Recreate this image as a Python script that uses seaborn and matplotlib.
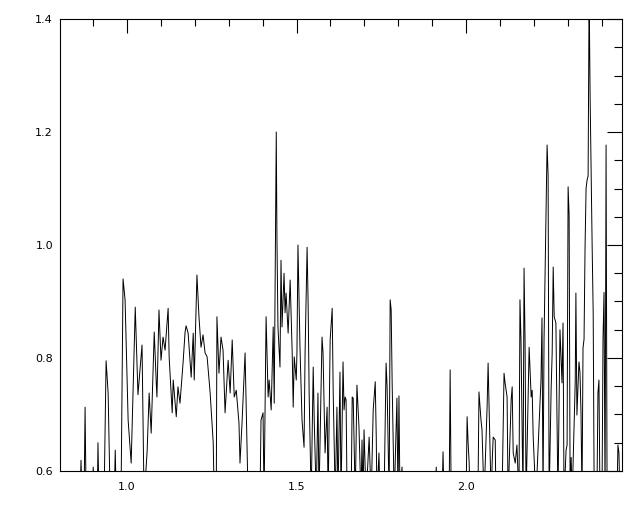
import matplotlib
matplotlib.use("Agg")
import matplotlib.pyplot as plt
from matplotlib.ticker import MultipleLocator, FormatStrFormatter
import seaborn as sns
import pandas as pd

B = 0.55  # below visible range (clipped)

wavelength = [
    0.802, 0.861, 0.864, 0.867, 0.873, 0.876, 0.879, 0.897, 0.900, 0.903,
    0.912, 0.914, 0.917, 0.932, 0.938, 0.944, 0.950, 0.962, 0.965, 0.968,
    0.982, 0.988, 0.994, 1.003, 1.012, 1.024, 1.032, 1.044, 1.050, 1.059,
    1.065, 1.071, 1.080, 1.086, 1.088, 1.094, 1.100, 1.106, 1.112, 1.121,
    1.124, 1.133, 1.136, 1.145, 1.150, 1.156, 1.165, 1.171, 1.174, 1.180,
    1.189, 1.195, 1.198, 1.206, 1.212, 1.218, 1.224, 1.230, 1.236, 1.245,
    1.254, 1.257, 1.263, 1.265, 1.271, 1.277, 1.283, 1.289, 1.298, 1.304,
    1.310, 1.316, 1.322, 1.330, 1.333, 1.339, 1.348, 1.354, 1.357, 1.392,
    1.395, 1.401, 1.404, 1.410, 1.416, 1.419, 1.425, 1.431, 1.434, 1.440,
    1.442, 1.445, 1.451, 1.454, 1.457, 1.463, 1.466, 1.469, 1.475, 1.481,
    1.487, 1.490, 1.493, 1.499, 1.501, 1.504, 1.510, 1.516, 1.522, 1.525,
    1.531, 1.534, 1.537, 1.543, 1.549, 1.552, 1.558, 1.563, 1.566, 1.575,
    1.578, 1.584, 1.590, 1.593, 1.599, 1.605, 1.608, 1.614, 1.619, 1.622,
    1.628, 1.631, 1.637, 1.640, 1.643, 1.646, 1.649, 1.661, 1.664, 1.667,
    1.673, 1.678, 1.684, 1.690, 1.693, 1.696, 1.699, 1.705, 1.714, 1.720,
    1.726, 1.732, 1.735, 1.737, 1.743, 1.746, 1.758, 1.764, 1.767, 1.773,
    1.776, 1.779, 1.782, 1.788, 1.796, 1.799, 1.802, 1.805, 1.811, 1.814,
    1.909, 1.912, 1.914, 1.929, 1.932, 1.935, 1.950, 1.953, 1.956, 2.000,
    2.003, 2.006, 2.009, 2.012, 2.035, 2.038, 2.044, 2.047, 2.053, 2.062,
    2.065, 2.068, 2.074, 2.077, 2.080, 2.086, 2.088, 2.106, 2.112, 2.115,
    2.121, 2.124, 2.133, 2.136, 2.139, 2.145, 2.150, 2.156, 2.159, 2.162,
    2.168, 2.171, 2.174, 2.177, 2.186, 2.192, 2.195, 2.198, 2.206, 2.221,
    2.224, 2.227, 2.230, 2.239, 2.242, 2.245, 2.251, 2.254, 2.257, 2.260,
    2.265, 2.268, 2.271, 2.277, 2.283, 2.286, 2.289, 2.295, 2.298, 2.301,
    2.304, 2.307, 2.310, 2.313, 2.322, 2.324, 2.327, 2.333, 2.336, 2.339,
    2.342, 2.345, 2.348, 2.351, 2.354, 2.357, 2.360, 2.363, 2.366, 2.369,
    2.372, 2.375, 2.378, 2.386, 2.389, 2.392, 2.395, 2.401, 2.404, 2.407,
    2.410, 2.413, 2.416, 2.445, 2.448, 2.451, 2.454, 2.460,
]

flux = [
    B, B, 0.619, B, B, 0.713, B, B, 0.607, B,
    B, 0.650, B, B, 0.795, 0.738, B, B, 0.637, B,
    B, 0.940, 0.903, 0.690, 0.614, 0.890, 0.735, 0.823, B, 0.634,
    0.738, 0.667, 0.846, 0.756, 0.731, 0.885, 0.796, 0.837, 0.814, 0.888,
    0.802, 0.703, 0.761, 0.696, 0.749, 0.720, 0.791, 0.846, 0.857, 0.844,
    0.766, 0.844, 0.761, 0.947, 0.873, 0.819, 0.841, 0.809, 0.802, 0.738,
    0.650, B, B, 0.873, 0.773, 0.837, 0.814, 0.703, 0.796, 0.738,
    0.832, 0.731, 0.743, 0.685, 0.614, 0.685, 0.809, 0.637, B, B,
    0.690, 0.703, B, 0.873, 0.731, 0.761, 0.708, 0.855, 0.720, 1.200,
    1.014, 0.855, 0.784, 0.973, 0.855, 0.950, 0.880, 0.915, 0.844, 0.938,
    0.809, 0.713, 0.802, 0.761, 0.809, 1.000, 0.819, 0.690, 0.642, 0.809,
    0.996, 0.897, 0.738, B, 0.784, 0.690, B, 0.738, B, 0.837,
    0.809, 0.632, 0.713, B, 0.832, 0.888, 0.738, B, 0.713, B,
    0.775, B, 0.793, 0.708, 0.731, 0.726, B, B, 0.731, 0.729,
    B, 0.752, 0.678, B, 0.655, B, 0.673, B, 0.660, B,
    0.708, 0.758, 0.660, B, 0.632, B, B, 0.791, 0.749, B,
    0.903, 0.885, 0.752, B, 0.729, B, 0.733, B, 0.607, B,
    B, 0.607, B, B, 0.634, B, B, 0.779, B, B,
    0.696, 0.650, 0.616, B, B, 0.740, 0.690, 0.673, B, 0.713,
    0.791, 0.711, B, 0.616, 0.660, 0.655, B, B, 0.773, 0.756,
    0.731, B, 0.726, 0.749, 0.632, 0.614, 0.646, B, 0.903, 0.832,
    B, 0.959, 0.832, B, 0.819, 0.731, 0.743, 0.660, B, 0.761,
    0.871, B, 0.832, 1.177, 1.124, B, 0.747, 0.809, 0.961, 0.873,
    0.862, 0.708, B, 0.850, 0.756, 0.862, B, 0.637, 0.646, 1.103,
    1.053, B, 0.624, B, 0.758, 0.915, 0.699, 0.793, 0.775, 0.704,
    B, 0.818, 0.833, 0.996, 1.100, 1.115, 1.122, 1.450, 1.259, 1.127,
    0.995, 0.879, B, B, 0.738, 0.761, B, B, 0.835, 0.916,
    B, 1.177, B, B, 0.646, 0.632, B, B,
]

x_ticks = [1.0, 1.5, 2.0]
y_ticks = [0.6, 0.8, 1.0, 1.2, 1.4]

df = pd.DataFrame({"wavelength": wavelength, "flux": flux})

sns.set_style("white")
plt.rcParams["font.family"] = ["DejaVu Sans"]

fig = plt.figure(figsize=(6.4, 5.12), dpi=100)
ax = fig.add_axes([60 / 640, 1 - 471 / 512, 562 / 640, 452 / 512])

sns.lineplot(data=df, x="wavelength", y="flux", ax=ax, sort=False,
             estimator=None, color="black", linewidth=0.7)

ax.set_xlim(0.802, 2.46)
ax.set_ylim(0.6, 1.4)
ax.set_xticks(x_ticks)
ax.set_yticks(y_ticks)
ax.xaxis.set_major_formatter(FormatStrFormatter("%.1f"))
ax.yaxis.set_major_formatter(FormatStrFormatter("%.1f"))
ax.xaxis.set_minor_locator(MultipleLocator(0.1))
ax.yaxis.set_minor_locator(MultipleLocator(0.05))
ax.tick_params(which="both", direction="in", top=True, right=True,
               colors="black", labelsize=8, width=0.8)
ax.tick_params(axis="x", which="major", length=10, pad=8)
ax.tick_params(axis="x", which="minor", length=5)
ax.tick_params(axis="y", which="major", length=11, pad=5)
ax.tick_params(axis="y", which="minor", length=6)
ax.set_xlabel("")
ax.set_ylabel("")
for s in ax.spines.values():
    s.set_color("black")
    s.set_linewidth(0.8)

fig.savefig("out.png", dpi=100, facecolor="white")
